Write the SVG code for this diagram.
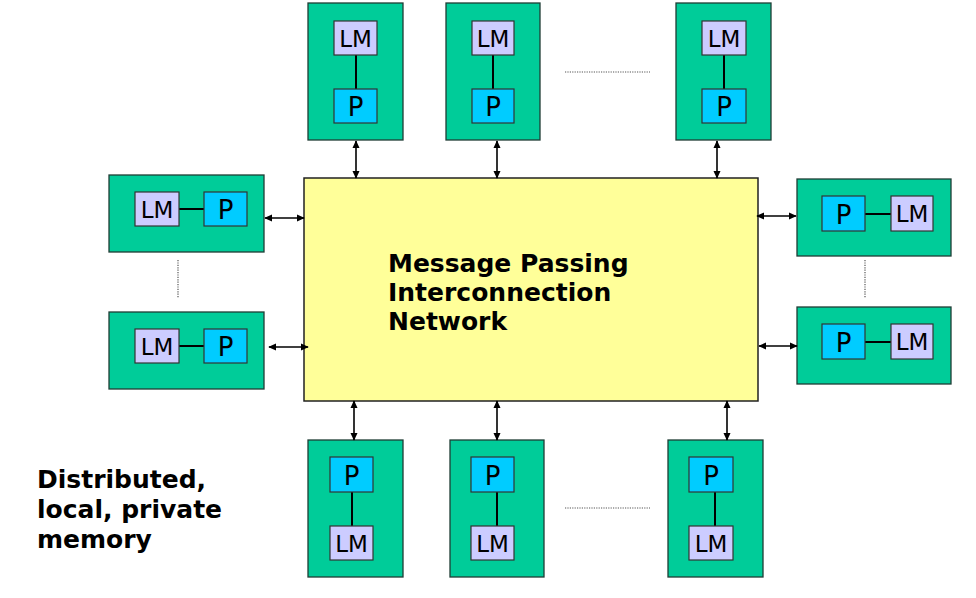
<svg xmlns="http://www.w3.org/2000/svg" width="976" height="598" viewBox="0 0 976 598">
<defs>
<marker id="ah" viewBox="0 0 10 10" refX="9" refY="5" markerWidth="8" markerHeight="8" markerUnits="userSpaceOnUse" orient="auto-start-reverse">
<path d="M0,0.5 L10,5 L0,9.5 z" fill="#000"/>
</marker>
<style>
.node{fill:#00CC99;stroke:#1f3d35;stroke-width:1.3}
.lm{fill:#CCCCFF;stroke:#333;stroke-width:1.2}
.p{fill:#00CCFF;stroke:#333;stroke-width:1.2}
.net{fill:#FFFF99;stroke:#222;stroke-width:1.5}
.lk{stroke:#000;stroke-width:2}
.t{font-family:"DejaVu Sans",Verdana,sans-serif;font-size:23px;fill:#000;text-anchor:middle}
.tp{font-family:"DejaVu Sans",Verdana,sans-serif;font-size:26px;fill:#000;text-anchor:middle}
.b{font-family:"DejaVu Sans",Verdana,sans-serif;font-size:25px;font-weight:bold;fill:#000}
.ar{stroke:#000;stroke-width:1.6;fill:none;marker-start:url(#ah);marker-end:url(#ah)}
.dot{stroke:#555;stroke-width:1.2;stroke-dasharray:1.2,1.2;fill:none}
</style>
</defs>
<rect width="976" height="598" fill="#fff"/>

<g id="network">
<rect class="net" x="304" y="178" width="454" height="223"/>
<text class="b" x="388" y="272">Message Passing</text>
<text class="b" x="388" y="301">Interconnection</text>
<text class="b" x="388" y="330">Network</text>
</g>

<g id="top1">
<rect class="node" x="308" y="3" width="95" height="137"/>
<line class="lk" x1="356" y1="55" x2="356" y2="89"/>
<rect class="lm" x="334" y="21" width="43" height="34"/><text class="t" x="355.5" y="46.5">LM</text>
<rect class="p" x="334" y="89" width="43" height="34"/><text class="tp" x="355.5" y="116">P</text>
</g>
<g id="top2">
<rect class="node" x="446" y="3" width="94" height="137"/>
<line class="lk" x1="493" y1="55" x2="493" y2="89"/>
<rect class="lm" x="472" y="21" width="42" height="34"/><text class="t" x="493" y="46.5">LM</text>
<rect class="p" x="472" y="89" width="42" height="34"/><text class="tp" x="493" y="116">P</text>
</g>
<g id="top3">
<rect class="node" x="676" y="3" width="95" height="137"/>
<line class="lk" x1="724" y1="55" x2="724" y2="89"/>
<rect class="lm" x="702" y="21" width="44" height="34"/><text class="t" x="724" y="46.5">LM</text>
<rect class="p" x="702" y="89" width="44" height="34"/><text class="tp" x="724" y="116">P</text>
</g>

<g id="left1">
<rect class="node" x="109" y="175" width="155" height="77"/>
<line class="lk" x1="179" y1="209" x2="204" y2="209"/>
<rect class="lm" x="135" y="192" width="44" height="34"/><text class="t" x="157" y="217.5">LM</text>
<rect class="p" x="204" y="192" width="43" height="34"/><text class="tp" x="225.5" y="219">P</text>
</g>
<g id="left2">
<rect class="node" x="109" y="312" width="155" height="77"/>
<line class="lk" x1="179" y1="346" x2="204" y2="346"/>
<rect class="lm" x="135" y="329" width="44" height="34"/><text class="t" x="157" y="354.5">LM</text>
<rect class="p" x="204" y="329" width="43" height="34"/><text class="tp" x="225.5" y="356">P</text>
</g>

<g id="right1">
<rect class="node" x="797" y="179" width="154" height="77"/>
<line class="lk" x1="865" y1="214" x2="891" y2="214"/>
<rect class="p" x="822" y="196" width="43" height="35"/><text class="tp" x="843.5" y="223.5">P</text>
<rect class="lm" x="891" y="196" width="42" height="35"/><text class="t" x="912" y="222">LM</text>
</g>
<g id="right2">
<rect class="node" x="797" y="307" width="154" height="77"/>
<line class="lk" x1="865" y1="342" x2="891" y2="342"/>
<rect class="p" x="822" y="324" width="43" height="35"/><text class="tp" x="843.5" y="351.5">P</text>
<rect class="lm" x="891" y="324" width="42" height="35"/><text class="t" x="912" y="350">LM</text>
</g>

<g id="bottom1">
<rect class="node" x="308" y="440" width="95" height="137"/>
<line class="lk" x1="352" y1="492" x2="352" y2="526"/>
<rect class="p" x="330" y="457" width="43" height="35"/><text class="tp" x="351.5" y="484.5">P</text>
<rect class="lm" x="330" y="526" width="43" height="34"/><text class="t" x="351.5" y="551.5">LM</text>
</g>
<g id="bottom2">
<rect class="node" x="450" y="440" width="94" height="137"/>
<line class="lk" x1="497" y1="492" x2="497" y2="526"/>
<rect class="p" x="471" y="457" width="43" height="35"/><text class="tp" x="492.5" y="484.5">P</text>
<rect class="lm" x="471" y="526" width="43" height="34"/><text class="t" x="492.5" y="551.5">LM</text>
</g>
<g id="bottom3">
<rect class="node" x="668" y="440" width="95" height="137"/>
<line class="lk" x1="715" y1="492" x2="715" y2="526"/>
<rect class="p" x="689" y="457" width="44" height="35"/><text class="tp" x="711" y="484.5">P</text>
<rect class="lm" x="689" y="526" width="44" height="34"/><text class="t" x="711" y="551.5">LM</text>
</g>

<g id="connectors">
<line class="ar" x1="356" y1="141" x2="356" y2="178"/>
<line class="ar" x1="497" y1="141" x2="497" y2="178"/>
<line class="ar" x1="717" y1="141" x2="717" y2="178"/>
<line class="ar" x1="265" y1="218" x2="304" y2="218"/>
<line class="ar" x1="269" y1="347" x2="308" y2="347"/>
<line class="ar" x1="757" y1="216" x2="796" y2="216"/>
<line class="ar" x1="759" y1="346" x2="797" y2="346"/>
<line class="ar" x1="354" y1="401" x2="354" y2="440"/>
<line class="ar" x1="497" y1="401" x2="497" y2="440"/>
<line class="ar" x1="727" y1="401" x2="727" y2="440"/>
</g>

<g id="ellipses">
<line class="dot" x1="565" y1="72" x2="650" y2="72"/>
<line class="dot" x1="565" y1="508" x2="650" y2="508"/>
<line class="dot" x1="178" y1="260" x2="178" y2="298"/>
<line class="dot" x1="865" y1="260" x2="865" y2="298"/>
</g>

<g id="caption">
<text class="b" x="37" y="488">Distributed,</text>
<text class="b" x="37" y="518">local, private</text>
<text class="b" x="37" y="548">memory</text>
</g>
</svg>
